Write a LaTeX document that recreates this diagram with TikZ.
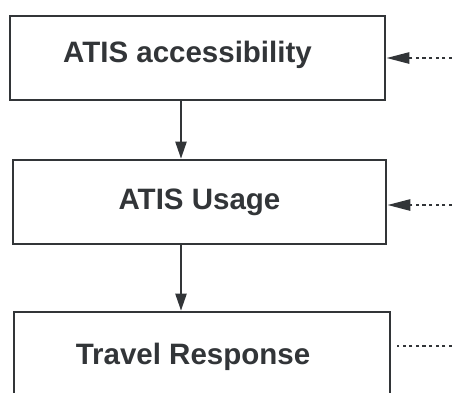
\documentclass[tikz,border=0pt]{standalone}
\usepackage{fontspec}
\setmainfont{Liberation Sans}
\usepackage{xcolor}
\definecolor{atisgray}{RGB}{50,53,56}
\usetikzlibrary{arrows.meta, positioning}

\tikzset{
  stagebox/.style={draw=atisgray, line width=2.6pt, minimum height=84pt, inner sep=0pt},
  stagetext/.style={font=\fontsize{29.5}{31}\selectfont\bfseries, text=atisgray},
  flowarr/.style={atisgray, line width=2.2pt, -{Triangle[length=17pt, width=11pt]}},
  extarr/.style={atisgray, line width=2.6pt, dash pattern=on 3.2pt off 3.4pt,
    -{Triangle[length=23pt, width=11pt]}},
  extline/.style={atisgray, line width=2.6pt, dash pattern=on 3.2pt off 3.4pt}
}

\begin{document}
\begin{tikzpicture}[x=1pt, y=-1pt]
  \useasboundingbox (0,0) rectangle (452,392);
  \clip (0,0) rectangle (452,392);

  % Stage 1 -- accessibility
  \node[stagebox, minimum width=375pt] (access) at (197.5,58) {};
  \node[stagetext] (accesstext) at ([xshift=-10pt, yshift=3pt]access.center) {ATIS accessibility};

  % Stage 2 -- usage
  \node[stagebox, minimum width=373pt] (usage) at (199.5,202) {};
  \node[stagetext] (usagetext) at ([xshift=0pt]usage.center) {ATIS Usage};

  % Stage 3 -- travel response (runs off the bottom)
  \node[stagebox, minimum width=376pt, minimum height=86pt] (response) at (202,355) {};
  \node[stagetext] (responsetext) at ([xshift=-9pt, yshift=-2pt]response.center) {Travel Response};

  % Downward arrows
  \draw[flowarr] ([xshift=-16.5pt]access.south) -- ([xshift=-16.5pt]access.south |- usage.north);
  \draw[flowarr] ([xshift=-18.5pt]usage.south) -- ([xshift=-18.5pt]usage.south |- response.north);

  % Outside influences (dotted, from the right edge)
  \coordinate (ext1) at (452,58);
  \coordinate (ext2) at (452,205);
  \coordinate (ext3) at (452,346);
  \draw[extarr] (ext1) -- (ext1 -| access.east);
  \draw[extarr] (ext2) -- (ext2 -| usage.east);
  \draw[extline] (ext3) -- ([xshift=6pt]ext3 -| response.east);
\end{tikzpicture}
\end{document}
